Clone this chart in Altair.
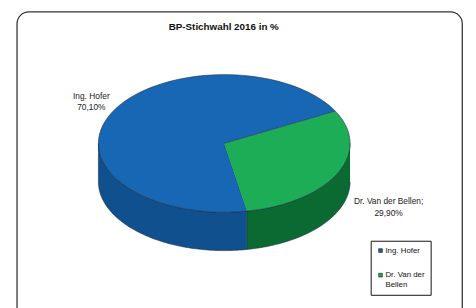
import altair as alt
import pandas as pd

# ---- data ----
names = ["Ing. Hofer", "Dr. Van der Bellen"]
shares = [70.1, 29.9]
slice_order = [2, 1]          # clockwise drawing order from the start angle
label_sep = ["", ";"]
top_colors = ["#1767b5", "#1ead57"]
wall_colors = ["#10508f", "#0b6a32"]
title_text = "BP-Stichwahl 2016 in %"

df = pd.DataFrame({"name": names, "share": shares, "ord": slice_order, "sep": label_sep})

# ---- layout / style ----
W, H = 453, 320
CX, CY, RX, RY, DEPTH = 211, 134, 128, 70, 39
START = -28  # degrees
N = 90
FONT = "Liberation Sans, Arial"

xs = alt.Scale(domain=[0, W], range=[0, W], nice=False, zero=False)
ys = alt.Scale(domain=[0, H], reverse=True, nice=False, zero=False)

base = alt.Chart(df).transform_joinaggregate(
    total="sum(share)"
).transform_window(
    cum="sum(share)", sort=[alt.SortField("ord", order="ascending")], frame=[None, 0]
).transform_calculate(
    a0=f"{START}*PI/180 + 2*PI*(datum.cum - datum.share)/datum.total",
    a1=f"{START}*PI/180 + 2*PI*datum.cum/datum.total",
)

# side wall (front half only)
wall = base.transform_calculate(
    b0="max(datum.a0, 0)", b1="min(datum.a1, PI)"
).transform_filter("datum.b1 > datum.b0").transform_calculate(
    idx=f"sequence(0, {2 * N + 2})"
).transform_flatten(["idx"]).transform_calculate(
    ang=f"datum.idx <= {N} ? datum.b0 + (datum.b1 - datum.b0)*datum.idx/{N} : datum.b1 - (datum.b1 - datum.b0)*(datum.idx - {N} - 1)/{N}",
    px=f"{CX} + {RX}*cos(datum.ang)",
    py=f"{CY} + {RY}*sin(datum.ang) + (datum.idx > {N} ? {DEPTH} : 0)",
).mark_line(filled=True, stroke="#1c2f44", strokeWidth=0.6, strokeJoin="round").encode(
    x=alt.X("px:Q", scale=xs, axis=None),
    y=alt.Y("py:Q", scale=ys, axis=None),
    order=alt.Order("idx:Q"),
    color=alt.Color("name:N", scale=alt.Scale(domain=names, range=wall_colors), legend=None),
)

# top face
top = base.transform_calculate(
    idx=f"sequence(0, {N + 2})"
).transform_flatten(["idx"]).transform_calculate(
    ang=f"datum.a0 + (datum.a1 - datum.a0)*(datum.idx - 1)/{N}",
    px=f"datum.idx == 0 ? {CX} : {CX} + {RX}*cos(datum.ang)",
    py=f"datum.idx == 0 ? {CY} : {CY} + {RY}*sin(datum.ang)",
).mark_line(filled=True, stroke="#1c2f44", strokeWidth=0.6, strokeJoin="round").encode(
    x=alt.X("px:Q", scale=xs, axis=None),
    y=alt.Y("py:Q", scale=ys, axis=None),
    order=alt.Order("idx:Q"),
    color=alt.Color(
        "name:N",
        scale=alt.Scale(domain=names, range=top_colors),
        legend=alt.Legend(
            title=None, orient="none", legendX=360, legendY=233,
            symbolType="square", symbolSize=14, symbolStrokeColor="#111",
            symbolStrokeWidth=0.6, labelFont=FONT, labelFontSize=8,
            labelColor="#111", labelOffset=1, rowPadding=17,
            strokeColor="#111", fillColor="white", padding=6,
            labelExpr="length(datum.label) > 12 ? [substring(datum.label, 0, lastindexof(datum.label, ' ')), substring(datum.label, lastindexof(datum.label, ' ') + 1)] : datum.label",
        ),
    ),
)

labels = base.transform_calculate(
    m="(datum.a0 + datum.a1)/2",
    lx=f"{CX} + {RX}*cos(datum.m)",
    ly=f"{CY} + {RY}*sin(datum.m)",
    txt="[datum.name + datum.sep, replace(format(datum.share, '.2f'), '.', ',') + '%']",
)
lab_left = labels.transform_filter("cos(datum.m) < 0").mark_text(
    font=FONT, fontSize=8.5, color="#222", align="center", baseline="middle", dx=-20, dy=-18, lineHeight=11
).encode(x=alt.X("lx:Q", scale=xs, axis=None), y=alt.Y("ly:Q", scale=ys, axis=None), text=alt.Text("txt:N"))
lab_right = labels.transform_filter("cos(datum.m) >= 0").mark_text(
    font=FONT, fontSize=8.5, color="#222", align="center", baseline="middle", dx=52, dy=28, lineHeight=12
).encode(x=alt.X("lx:Q", scale=xs, axis=None), y=alt.Y("ly:Q", scale=ys, axis=None), text=alt.Text("txt:N"))

chart = alt.layer(wall, top, lab_left, lab_right).resolve_scale(
    color="independent"
).properties(
    width=W, height=H,
    padding={"left": 9, "right": 6, "top": 1, "bottom": 0},
    autosize=alt.AutoSizeParams(type="none"),
    title=alt.Title(title_text, font=FONT, fontSize=10, fontWeight="bold", color="#111",
                    anchor="middle", frame="group", dx=-16, offset=-21),
).configure(background="white").configure_view(
    stroke="#333", strokeWidth=1.3, cornerRadius=12, fill="white"
)

chart.save("out.html", embed_options={"renderer": "svg", "actions": False})
